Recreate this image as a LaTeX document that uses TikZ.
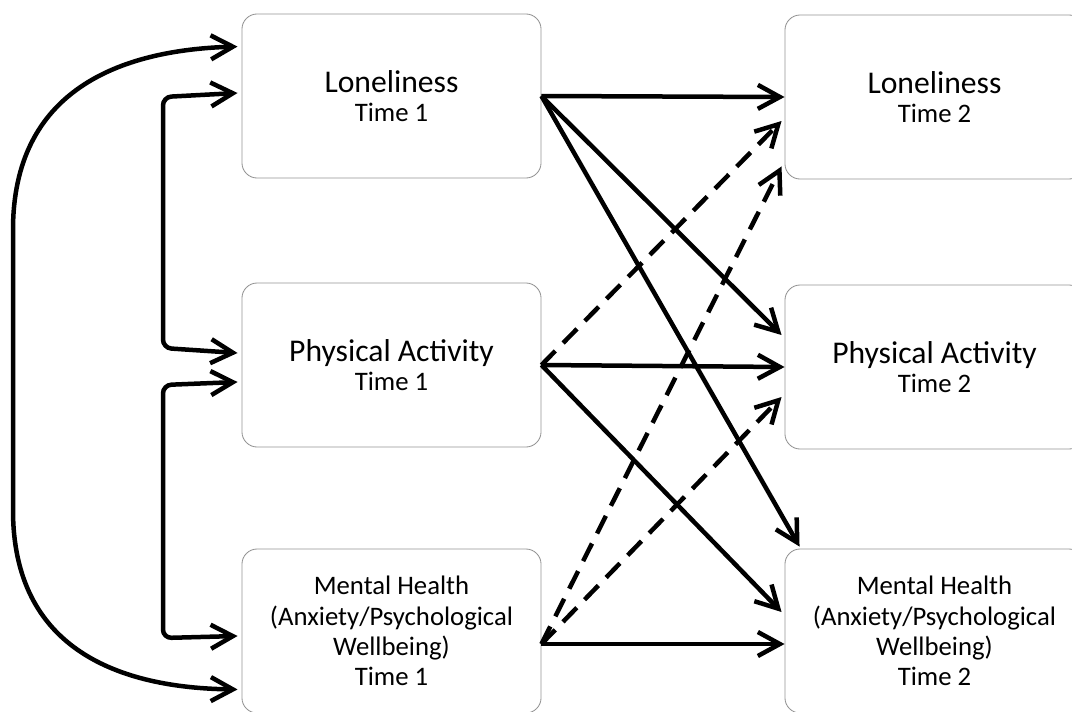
\documentclass[tikz,border=0pt]{standalone}
\usepackage{fontspec}
\setmainfont{Carlito}
\usetikzlibrary{arrows.meta,calc}

\begin{document}
\begin{tikzpicture}[x=0.025cm,y=-0.025cm,
  var/.style={draw=gray!85,line width=0.6pt,rounded corners=0.38cm,minimum width=7.475cm,minimum height=4.1cm,align=center,font=\fontsize{19}{21.5}\selectfont},
  link/.style={line width=3.2pt,-{Straight Barb[length=5.5mm,width=6mm]}},
  nolink/.style={link,dash pattern=on 14pt off 8pt},
  pair/.style={line width=3.2pt,{Straight Barb[length=5.5mm,width=6mm]}-{Straight Barb[length=5.5mm,width=6mm]}}]
\clip (0,0) rectangle (1072,711);
% time 1
\node[var] (L1) at (391.5,96) {{\fontsize{22.5}{25}\selectfont Loneliness}\\[-1pt]Time 1};
\node[var] (P1) at (391.5,365) {{\fontsize{22.5}{25}\selectfont Physical Activity}\\[-1pt]Time 1};
\node[var] (M1) at (391.5,631) {Mental Health\\(Anxiety/Psychological\\Wellbeing)\\Time 1};
% time 2
\node[var] (L2) at (934.5,97) {{\fontsize{22.5}{25}\selectfont Loneliness}\\[-1pt]Time 2};
\node[var] (P2) at (934.5,367) {{\fontsize{22.5}{25}\selectfont Physical Activity}\\[-1pt]Time 2};
\node[var] (M2) at (934.5,631) {Mental Health\\(Anxiety/Psychological\\Wellbeing)\\Time 2};
% correlations at time 1
\draw[pair] ($(L1.north west)+(-4,33)$) .. controls (120,50) and (13,90) .. (13,230) -- (13,510) .. controls (13,650) and (120,688) .. ($(M1.south west)+(-4,-24)$);
\draw[pair,rounded corners=6pt] ($(L1.west)+(-4,-3)$) -- (163,97) -- (163,348) -- ($(P1.west)+(-4,-12)$);
\draw[pair,rounded corners=6pt] ($(P1.west)+(-4,17)$) -- (163,385) -- (163,638) -- ($(M1.west)+(-4,5)$);
% cross-lagged paths
\draw[link] (L1.east) -- (L2.west);
\draw[link] (L1.east) -- ($(P2.west)+(-3,-32)$);
\draw[link] (L1.east) -- ($(M2.north west)+(15,-2)$);
\draw[link] (P1.east) -- (P2.west);
\draw[link] (P1.east) -- ($(M2.west)+(-3,-19)$);
\draw[nolink] (P1.east) -- ($(L2.west)+(-3,24)$);
\draw[link] ($(M1.east)+(0,13)$) -- ($(M2.west)+(0,13)$);
\draw[nolink] ($(M1.east)+(0,13)$) -- ($(L2.south west)+(-3,-13)$);
\draw[nolink] ($(M1.east)+(0,13)$) -- ($(P2.west)+(-3,30)$);
\end{tikzpicture}
\end{document}
